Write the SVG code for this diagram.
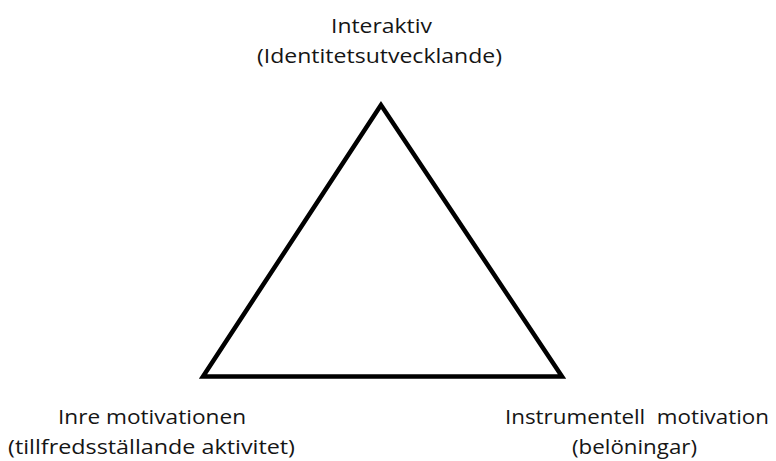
<svg xmlns="http://www.w3.org/2000/svg" width="776" height="461" viewBox="0 0 776 461">
<style>
.lbl{font-family:"Open Sans","Noto Sans",sans-serif;font-size:20px;fill:#151515;}
.tri{fill:none;stroke:#000;stroke-width:4.5;stroke-linejoin:miter;}
</style>
<rect width="776" height="461" fill="#fff"/>
<g id="connectors">
<polygon class="tri" points="381,105 203,376.5 562,376.5"/>
</g>
<g id="node-top">
<text class="lbl" x="331" y="33" textLength="101" lengthAdjust="spacingAndGlyphs">Interaktiv</text>
<text class="lbl" x="257" y="63" textLength="245" lengthAdjust="spacingAndGlyphs">(Identitetsutvecklande)</text>
</g>
<g id="node-left">
<text class="lbl" x="58" y="424" textLength="188" lengthAdjust="spacingAndGlyphs">Inre motivationen</text>
<text class="lbl" x="8" y="454" textLength="287" lengthAdjust="spacingAndGlyphs">(tillfredsställande aktivitet)</text>
</g>
<g id="node-right">
<text class="lbl" x="505" y="424" textLength="264" lengthAdjust="spacingAndGlyphs" xml:space="preserve">Instrumentell  motivation</text>
<text class="lbl" x="572" y="454" textLength="125" lengthAdjust="spacingAndGlyphs">(belöningar)</text>
</g>
</svg>
